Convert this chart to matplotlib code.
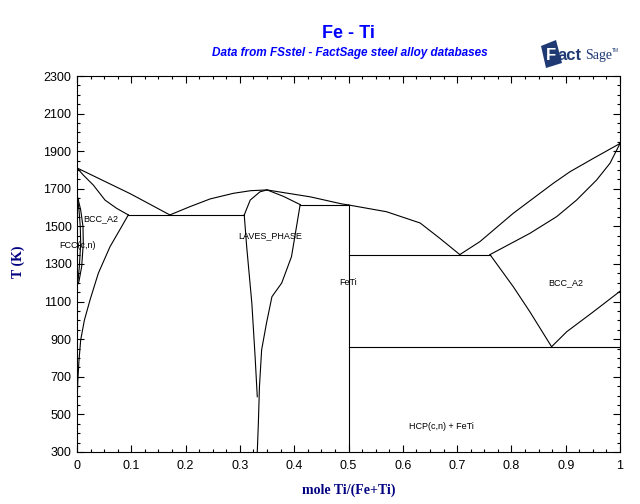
import numpy as np
import matplotlib.pyplot as plt
from matplotlib.ticker import MultipleLocator
from matplotlib.patches import Polygon

# Fe-Ti phase diagram boundaries (x = mole Ti/(Fe+Ti), T in K)
fe_liq_x = [0.0, 0.098, 0.171]
fe_liq_T = [1811, 1674, 1561]

fe_sol_x = [0.0, 0.0116, 0.030, 0.0516, 0.073, 0.0945]
fe_sol_T = [1811, 1773, 1720, 1640, 1596, 1561]

fe_solvus_x = [0.0945, 0.082, 0.0608, 0.0393, 0.024, 0.0135, 0.0068, 0.0037, 0.0015, 0.0005, 0.0]
fe_solvus_T = [1561, 1498, 1392, 1251, 1109, 1000, 896, 789, 680, 600, 560]

loop_out_x = [0.0, 0.0035, 0.0086, 0.0116, 0.0110, 0.0068, 0.0025, 0.0]
loop_out_T = [1185, 1206, 1286, 1410, 1500, 1587, 1640, 1667]
loop_in_x = [0.0, 0.002, 0.0043, 0.0068, 0.0060, 0.0037, 0.0012, 0.0]
loop_in_T = [1185, 1215, 1286, 1410, 1500, 1587, 1645, 1667]

eut1_x = [0.0945, 0.308]
eut1_T = [1561, 1561]

laves_liq_x = [0.171, 0.208, 0.245, 0.288, 0.320, 0.350, 0.380, 0.430, 0.487, 0.500]
laves_liq_T = [1561, 1605, 1646, 1676, 1690, 1694, 1680, 1657, 1620, 1614]

feti_liq_x = [0.500, 0.570, 0.632, 0.668, 0.705]
feti_liq_T = [1614, 1578, 1518, 1437, 1350]

laves_sol_l_x = [0.308, 0.319, 0.337, 0.350]
laves_sol_l_T = [1561, 1640, 1684, 1694]
laves_sol_r_x = [0.350, 0.380, 0.411]
laves_sol_r_T = [1694, 1660, 1616]

perit_x = [0.411, 0.500]
perit_T = [1616, 1616]

laves_r_x = [0.411, 0.395, 0.377, 0.359, 0.349, 0.340, 0.336, 0.334, 0.332]
laves_r_T = [1616, 1339, 1199, 1126, 986, 843, 647, 454, 300]
laves_l_x = [0.308, 0.3125, 0.322, 0.328, 0.332]
laves_l_T = [1561, 1392, 1091, 807, 594]

feti_x = [0.5, 0.5]
feti_T = [300, 1616]

eut2_x = [0.5, 0.7606]
eut2_T = [1350, 1350]

ti_liq_x = [0.705, 0.742, 0.8035, 0.877, 0.908, 0.951, 1.0]
ti_liq_T = [1350, 1419, 1570, 1729, 1791, 1862, 1941]

ti_sol_x = [0.7606, 0.834, 0.8834, 0.920, 0.957, 0.9816, 1.0]
ti_sol_T = [1350, 1463, 1552, 1640, 1747, 1836, 1941]

bcc_low_x = [0.7606, 0.8035, 0.834, 0.874]
bcc_low_T = [1350, 1179, 1046, 860]

eutd_x = [0.5, 1.0]
eutd_T = [860, 860]

ab_x = [0.874, 0.902, 0.951, 1.0]
ab_T = [860, 940, 1046, 1155]

lines = [
    (fe_liq_x, fe_liq_T), (fe_sol_x, fe_sol_T), (fe_solvus_x, fe_solvus_T),
    (loop_out_x, loop_out_T), (loop_in_x, loop_in_T), (eut1_x, eut1_T),
    (laves_liq_x, laves_liq_T), (feti_liq_x, feti_liq_T),
    (laves_sol_l_x, laves_sol_l_T), (laves_sol_r_x, laves_sol_r_T),
    (perit_x, perit_T), (laves_r_x, laves_r_T), (laves_l_x, laves_l_T),
    (feti_x, feti_T), (eut2_x, eut2_T), (ti_liq_x, ti_liq_T),
    (ti_sol_x, ti_sol_T), (bcc_low_x, bcc_low_T), (eutd_x, eutd_T), (ab_x, ab_T),
]

# Phase labels: text, x, T
labels = [
    ('BCC_A2', 0.011, 1539),
    ('FCC(c,n)', -0.033, 1396),
    ('LAVES_PHASE', 0.2965, 1449),
    ('FeTi', 0.4825, 1199),
    ('BCC_A2', 0.867, 1199),
    ('HCP(c,n) + FeTi', 0.611, 433),
]

xticks = [0, 0.1, 0.2, 0.3, 0.4, 0.5, 0.6, 0.7, 0.8, 0.9, 1.0]
xticklabels = ['0', '0.1', '0.2', '0.3', '0.4', '0.5', '0.6', '0.7', '0.8', '0.9', '1']
yticks = list(range(300, 2301, 200))

plt.rcParams['font.family'] = ['Liberation Sans', 'DejaVu Sans']

fig = plt.figure(figsize=(6.4, 5.04), dpi=100)
ax = fig.add_axes([77 / 640, 1 - 452 / 504, 543 / 640, 376 / 504])

for xs, ts in lines:
    ax.plot(xs, ts, color='black', lw=0.8)

for txt, x, t in labels:
    ax.text(x, t, txt, fontsize=6.5, ha='left', va='center', clip_on=False)

ax.set_xlim(0, 1)
ax.set_ylim(300, 2300)
ax.set_xticks(xticks)
ax.set_xticklabels(xticklabels)
ax.set_yticks(yticks)
ax.xaxis.set_minor_locator(MultipleLocator(0.025))
ax.yaxis.set_minor_locator(MultipleLocator(50))
ax.tick_params(which='both', direction='in', top=True, right=True, labelsize=9, width=0.8)
ax.tick_params(which='major', length=5)
ax.tick_params(which='minor', length=2.5)
ax.tick_params(axis='x', pad=6)
ax.tick_params(axis='y', pad=4)
for sp in ax.spines.values():
    sp.set_linewidth(0.8)

ax.set_xlabel('mole Ti/(Fe+Ti)', family='Liberation Serif', fontweight='bold',
              fontsize=10, color='#000080')
ax.set_ylabel('T (K)', family='Liberation Serif', fontweight='bold',
              fontsize=10, color='#000080')
ax.xaxis.set_label_coords(0.5, -0.101)
ax.yaxis.set_label_coords(-0.109, 0.505)
ax.xaxis.label.set_va('center')
ax.yaxis.label.set_va('center')

fig.text(0.545, 1 - 33 / 504, 'Fe - Ti', color='#0000ff', fontsize=13,
         fontweight='bold', ha='center', va='center')
fig.text(0.547, 1 - 53 / 504, 'Data from FSstel - FactSage steel alloy databases',
         color='#0000ff', fontsize=8.5, fontweight='bold', style='italic',
         ha='center', va='center')

# FactSage logo (approximate)
logo_col = '#1f3a73'
fig.patches.append(Polygon([[541 / 640, 1 - 46 / 504], [556 / 640, 1 - 40 / 504],
                            [562 / 640, 1 - 63 / 504], [546 / 640, 1 - 68 / 504]],
                           closed=True, transform=fig.transFigure,
                           facecolor=logo_col, edgecolor='none'))
fig.text(546 / 640, 1 - 55 / 504, 'F', color='white', fontsize=12,
         fontweight='bold', ha='left', va='center')
fig.text(557 / 640, 1 - 55 / 504, 'act', color=logo_col, fontsize=12,
         fontweight='bold', ha='left', va='center')
fig.text(585 / 640, 1 - 55 / 504, 'Sage', color=logo_col, fontsize=10,
         family='Liberation Serif', ha='left', va='center')
fig.text(612 / 640, 1 - 50 / 504, 'TM', color=logo_col, fontsize=3.5,
         ha='left', va='center')

fig.savefig('out.png', dpi=100)
